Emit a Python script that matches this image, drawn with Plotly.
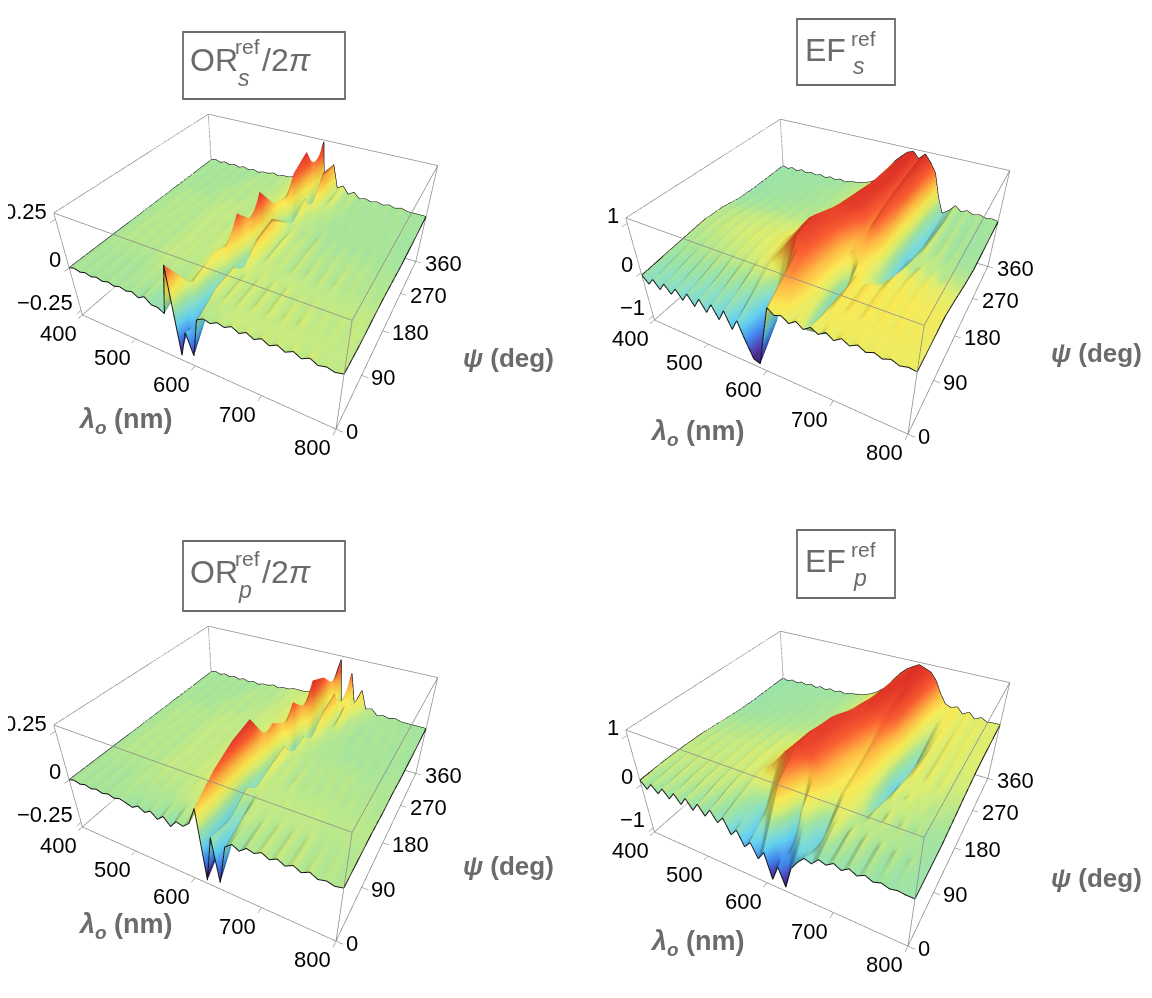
import plotly.graph_objects as go

# sample grid
lam = [400, 410, 420, 430, 440, 450, 460, 470, 480, 490, 500, 510, 520, 530, 540,
       550, 560, 570, 580, 590, 600, 610, 620, 630, 640, 650, 660, 670, 680, 690,
       700, 710, 720, 730, 740, 750, 760, 770, 780, 790, 800]
psi = [0, 45, 90, 135, 180, 225, 270, 315, 360]

# OR_s^ref / 2pi, one row per psi value
or_s = [
    [0.00, 0.01, 0.00, 0.01, 0.00, 0.01, 0.00, 0.01, 0.00, 0.01, 0.00, 0.01, -0.01, 0.01, -0.02,
     -0.02, -0.04, 0.22, -0.25, -0.1, -0.22, 0.0, 0.02, 0.01, 0.03,
     0.02, 0.04, 0.02, 0.04, 0.02, 0.04, 0.02, 0.04, 0.02, 0.04,
     0.02, 0.04, 0.02, 0.03, 0.02, 0.03],
    [0.00, 0.01, 0.00, 0.01, 0.00, 0.01, 0.00, 0.01, 0.00, 0.01, 0.01, 0.02, 0.01, 0.02, 0.01,
     0.01, 0.02, 0.03, 0.06, -0.15, -0.05, 0.05, 0.02, 0.04, 0.02,
     0.04, 0.02, 0.04, 0.02, 0.04, 0.02, 0.04, 0.02, 0.04, 0.02,
     0.03, 0.02, 0.03, 0.02, 0.03, 0.02],
    [0.00, 0.01, 0.01, 0.02, 0.01, 0.02, 0.01, 0.02, 0.01, 0.02, 0.02, 0.03, 0.02, 0.03, 0.02,
     0.02, 0.03, 0.04, 0.1, 0.02, -0.1, 0.06, 0.02, 0.04, 0.02,
     0.04, 0.02, 0.04, 0.02, 0.04, 0.02, 0.03, 0.02, 0.03, 0.02,
     0.03, 0.02, 0.03, 0.02, 0.03, 0.02],
    [0.00, 0.01, 0.01, 0.02, 0.01, 0.02, 0.01, 0.02, 0.01, 0.02, 0.02, 0.03, 0.02, 0.03, 0.02,
     0.03, 0.03, 0.04, 0.06, 0.22, 0.0, -0.1, 0.12, 0.02, 0.04,
     0.02, 0.03, 0.01, 0.03, 0.01, 0.03, 0.01, 0.03, 0.01, 0.03,
     0.01, 0.02, 0.01, 0.02, 0.01, 0.02],
    [0.00, 0.01, 0.01, 0.02, 0.01, 0.02, 0.01, 0.02, 0.01, 0.02, 0.02, 0.03, 0.02, 0.03, 0.02,
     0.03, 0.03, 0.04, 0.06, 0.1, 0.26, -0.12, 0.14, 0.02, 0.05,
     0.02, 0.03, 0.01, 0.03, 0.01, 0.02, 0.01, 0.02, 0.01, 0.02,
     0.01, 0.02, 0.01, 0.01, 0.01, 0.01],
    [0.00, 0.01, 0.01, 0.02, 0.01, 0.02, 0.01, 0.02, 0.01, 0.02, 0.02, 0.03, 0.02, 0.03, 0.02,
     0.02, 0.03, 0.03, 0.05, 0.08, 0.12, -0.08, 0.04, 0.02, 0.03,
     0.01, 0.02, 0.00, 0.02, 0.00, 0.01, 0.00, 0.01, 0.00, 0.01,
     0.00, 0.01, 0.00, 0.01, 0.00, 0.00],
    [0.00, 0.01, 0.00, 0.01, 0.00, 0.01, 0.00, 0.01, 0.01, 0.02, 0.01, 0.02, 0.01, 0.02, 0.02,
     0.02, 0.03, 0.03, 0.04, 0.05, 0.08, 0.22, -0.1, 0.1, 0.02,
     0.03, 0.01, 0.02, 0.00, 0.01, 0.00, 0.01, 0.00, 0.01, 0.00,
     0.01, 0.00, 0.01, 0.00, 0.00, 0.00],
    [0.00, 0.01, 0.00, 0.01, 0.00, 0.01, 0.00, 0.01, 0.00, 0.01, 0.01, 0.02, 0.01, 0.02, 0.01,
     0.02, 0.02, 0.03, 0.04, 0.05, 0.07, 0.27, 0.1, -0.12, 0.18,
     0.02, 0.05, 0.01, 0.02, 0.00, 0.01, 0.00, 0.01, 0.00, 0.01,
     0.00, 0.01, 0.00, 0.01, 0.00, 0.00],
    [0.00, 0.01, 0.00, 0.01, 0.00, 0.01, 0.00, 0.01, 0.00, 0.01, 0.00, 0.01, 0.01, 0.02, 0.01,
     0.02, 0.02, 0.03, 0.03, 0.04, 0.06, 0.1, 0.27, -0.1, 0.16,
     0.03, 0.05, 0.01, 0.03, 0.00, 0.01, 0.00, 0.01, 0.00, 0.01,
     0.00, 0.01, 0.00, 0.00, 0.00, 0.00],
]

# EF_s^ref
ef_s = [
    [-0.05, -0.2, -0.05, -0.22, -0.05, -0.22, -0.06, -0.25, -0.06, -0.28, -0.07, -0.3, -0.08, -0.35, -0.1,
     -0.45, -0.2, -0.6, -0.95, -1.0, -0.3, 0.35, 0.25, 0.3, 0.2,
     0.3, 0.2, 0.3, 0.22, 0.32, 0.22, 0.32, 0.24, 0.32, 0.24,
     0.3, 0.24, 0.3, 0.24, 0.28, 0.26],
    [0.0, -0.08, 0.0, -0.08, 0.02, -0.08, 0.02, -0.08, 0.03, -0.1, 0.03, -0.1, 0.05, -0.12, 0.05,
     -0.1, 0.0, -0.35, -0.7, -0.5, 0.3, 0.65, 0.7, 0.55, 0.35,
     0.2, -0.4, 0.25, 0.35, 0.3, 0.38, 0.28, 0.36, 0.28, 0.34,
     0.28, 0.34, 0.28, 0.32, 0.28, 0.28],
    [0.05, 0.02, 0.07, 0.03, 0.08, 0.05, 0.1, 0.06, 0.12, 0.08, 0.14, 0.1, 0.16, 0.14, 0.2,
     0.22, 0.3, 0.45, 0.62, 0.8, 0.92, 0.88, 0.8, 0.65, 0.45,
     0.15, -0.85, 0.2, 0.4, 0.32, 0.4, 0.3, 0.38, 0.3, 0.36,
     0.3, 0.35, 0.3, 0.32, 0.3, 0.3],
    [0.1, 0.06, 0.12, 0.08, 0.14, 0.1, 0.16, 0.12, 0.18, 0.14, 0.2, 0.16, 0.22, 0.2, 0.26,
     0.3, 0.4, 0.55, 0.72, 0.88, 0.98, 0.95, 0.88, 0.78, 0.6,
     0.42, 0.5, 0.45, 0.3, 0.1, 0.0, 0.15, 0.3, 0.22, 0.3,
     0.22, 0.28, 0.22, 0.25, 0.2, 0.2],
    [0.08, 0.05, 0.1, 0.06, 0.12, 0.08, 0.12, 0.1, 0.14, 0.1, 0.15, 0.12, 0.16, 0.14, 0.18,
     0.2, 0.26, 0.35, 0.5, 0.66, 0.8, 0.9, 0.96, 1.0, 0.95,
     0.85, 0.68, 0.8, 0.55, 0.12, -0.25, -0.1, 0.12, 0.05, 0.15,
     0.08, 0.12, 0.05, 0.1, 0.08, 0.08],
    [0.0, -0.03, 0.02, -0.02, 0.03, 0.0, 0.04, 0.0, 0.05, 0.02, 0.06, 0.03, 0.07, 0.05, 0.08,
     0.1, 0.14, 0.2, 0.3, 0.45, 0.62, 0.8, 0.92, 1.0, 1.02,
     0.95, 0.8, 0.9, 0.7, 0.2, -0.3, -0.2, 0.02, 0.15, 0.02,
     0.1, 0.0, 0.06, 0.0, 0.02, 0.0],
    [-0.02, -0.05, 0.0, -0.04, 0.0, -0.03, 0.01, -0.02, 0.02, -0.01, 0.03, 0.0, 0.04, 0.02, 0.05,
     0.06, 0.1, 0.15, 0.22, 0.35, 0.5, 0.68, 0.82, 0.95, 1.0,
     1.02, 0.85, 0.95, 0.8, 0.4, -0.15, -0.3, -0.05, 0.12, 0.0,
     0.08, -0.02, 0.04, -0.02, 0.0, 0.0],
    [-0.02, -0.05, 0.0, -0.04, 0.0, -0.03, 0.0, -0.02, 0.01, -0.02, 0.02, 0.0, 0.03, 0.01, 0.04,
     0.05, 0.08, 0.12, 0.18, 0.28, 0.42, 0.6, 0.78, 0.9, 1.0,
     1.05, 0.9, 1.0, 0.85, 0.55, 0.0, -0.25, -0.1, 0.1, 0.0,
     0.06, -0.02, 0.04, -0.02, 0.0, 0.0],
    [-0.02, -0.06, -0.01, -0.06, 0.0, -0.05, 0.0, -0.04, 0.0, -0.04, 0.01, -0.03, 0.02, -0.02, 0.03,
     0.04, 0.06, 0.1, 0.15, 0.24, 0.38, 0.55, 0.75, 0.88, 1.0,
     1.05, 0.92, 1.05, 0.9, 0.7, 0.2, -0.15, -0.05, 0.1, 0.0,
     0.06, 0.0, 0.04, 0.0, 0.02, 0.0],
]

# OR_p^ref / 2pi
or_p = [
    [0.00, 0.01, 0.00, 0.01, 0.00, 0.01, 0.00, 0.01, 0.00, 0.01, 0.00, -0.01, 0.01, -0.01, 0.01,
     -0.02, 0.01, -0.03, 0.01, 0.0, 0.03, 0.12, -0.26, 0.0, -0.24,
     -0.02, 0.01, -0.01, 0.02, 0.01, 0.03, 0.01, 0.03, 0.01, 0.03,
     0.01, 0.03, 0.01, 0.02, 0.01, 0.02],
    [0.00, 0.01, 0.00, 0.01, 0.00, 0.01, 0.00, 0.01, 0.01, 0.02, 0.01, 0.02, 0.01, 0.02, 0.01,
     0.02, 0.02, 0.03, 0.03, 0.04, 0.08, 0.2, -0.15, -0.02, -0.06,
     0.02, 0.03, 0.01, 0.03, 0.01, 0.03, 0.01, 0.03, 0.01, 0.03,
     0.01, 0.02, 0.01, 0.02, 0.01, 0.02],
    [0.00, 0.01, 0.01, 0.02, 0.01, 0.02, 0.01, 0.02, 0.01, 0.02, 0.02, 0.03, 0.02, 0.03, 0.02,
     0.03, 0.03, 0.04, 0.04, 0.05, 0.1, 0.25, -0.12, 0.04, 0.02,
     0.03, 0.02, 0.03, 0.02, 0.03, 0.02, 0.03, 0.02, 0.03, 0.02,
     0.02, 0.02, 0.02, 0.02, 0.02, 0.02],
    [0.00, 0.01, 0.01, 0.02, 0.01, 0.02, 0.01, 0.02, 0.01, 0.02, 0.02, 0.03, 0.02, 0.03, 0.02,
     0.03, 0.03, 0.04, 0.05, 0.06, 0.08, 0.27, 0.05, -0.1, 0.06,
     0.02, 0.03, 0.01, 0.03, 0.01, 0.02, 0.01, 0.02, 0.01, 0.02,
     0.01, 0.02, 0.01, 0.02, 0.01, 0.01],
    [0.00, 0.01, 0.01, 0.02, 0.01, 0.02, 0.01, 0.02, 0.01, 0.02, 0.02, 0.03, 0.02, 0.03, 0.02,
     0.03, 0.03, 0.04, 0.04, 0.05, 0.06, 0.1, 0.18, -0.09, 0.08,
     0.02, 0.03, 0.01, 0.02, 0.01, 0.02, 0.01, 0.02, 0.01, 0.02,
     0.01, 0.01, 0.01, 0.01, 0.01, 0.01],
    [0.00, 0.01, 0.01, 0.02, 0.01, 0.02, 0.01, 0.02, 0.01, 0.02, 0.02, 0.03, 0.02, 0.03, 0.02,
     0.02, 0.03, 0.03, 0.04, 0.04, 0.05, 0.06, 0.1, 0.22, -0.1,
     0.06, 0.02, 0.02, 0.01, 0.01, 0.01, 0.01, 0.00, 0.01, 0.00,
     0.01, 0.00, 0.01, 0.00, 0.01, 0.00],
    [0.00, 0.01, 0.00, 0.01, 0.00, 0.01, 0.00, 0.01, 0.01, 0.02, 0.01, 0.02, 0.01, 0.02, 0.02,
     0.02, 0.03, 0.03, 0.03, 0.04, 0.05, 0.06, 0.08, 0.12, 0.27,
     -0.1, 0.12, 0.02, 0.02, 0.01, 0.01, 0.00, 0.01, 0.00, 0.01,
     0.00, 0.01, 0.00, 0.01, 0.00, 0.00],
    [0.00, 0.01, 0.00, 0.01, 0.00, 0.01, 0.00, 0.01, 0.00, 0.01, 0.01, 0.02, 0.01, 0.02, 0.01,
     0.02, 0.02, 0.03, 0.03, 0.04, 0.04, 0.05, 0.07, 0.1, 0.22,
     -0.08, 0.15, 0.02, 0.1, 0.01, 0.02, 0.00, 0.01, 0.00, 0.01,
     0.00, 0.01, 0.00, 0.01, 0.00, 0.00],
    [0.00, 0.01, 0.00, 0.01, 0.00, 0.01, 0.00, 0.01, 0.00, 0.01, 0.00, 0.01, 0.01, 0.02, 0.01,
     0.02, 0.02, 0.03, 0.03, 0.03, 0.04, 0.05, 0.06, 0.08, 0.12,
     0.26, -0.06, 0.2, 0.03, 0.12, 0.02, 0.03, 0.00, 0.01, 0.00,
     0.01, 0.00, 0.00, 0.00, 0.00, 0.00],
]

# EF_p^ref
ef_p = [
    [0.1, -0.05, 0.1, -0.05, 0.1, -0.06, 0.1, -0.08, 0.1, -0.1, 0.08, -0.12, 0.06, -0.15, 0.0,
     -0.3, -0.15, -0.45, -0.3, -0.6, -0.4, -0.95, -0.6, -1.0, -0.5,
     -0.3, -0.15, -0.2, -0.05, -0.1, 0.0, -0.08, 0.02, -0.06, 0.02,
     -0.05, 0.0, -0.05, -0.02, -0.04, -0.04],
    [0.12, 0.05, 0.12, 0.05, 0.13, 0.05, 0.13, 0.06, 0.14, 0.06, 0.14, 0.05, 0.14, 0.02, 0.1,
     0.0, -0.1, -0.3, 0.1, 0.4, 0.6, 0.3, -0.5, 0.2, 0.1,
     -0.2, -0.3, 0.1, 0.2, 0.0, 0.15, 0.0, 0.12, -0.02, 0.1,
     -0.02, 0.08, -0.03, 0.05, -0.03, -0.03],
    [0.12, 0.08, 0.13, 0.08, 0.14, 0.08, 0.14, 0.09, 0.15, 0.1, 0.16, 0.12, 0.18, 0.15, 0.22,
     0.3, 0.42, 0.58, 0.75, 0.88, 0.95, 0.9, 0.82, 0.65, 0.5,
     0.35, 0.25, 0.35, 0.28, 0.15, 0.0, 0.15, 0.05, 0.18, 0.02,
     0.12, 0.0, 0.08, -0.02, 0.0, -0.02],
    [0.1, 0.06, 0.12, 0.07, 0.12, 0.08, 0.13, 0.09, 0.14, 0.1, 0.16, 0.12, 0.18, 0.16, 0.22,
     0.28, 0.38, 0.52, 0.68, 0.84, 0.95, 0.98, 0.92, 0.8, 0.65,
     0.5, 0.38, 0.48, 0.35, 0.1, -0.2, 0.05, 0.2, 0.1, 0.2,
     0.1, 0.15, 0.05, 0.1, 0.05, 0.05],
    [0.05, 0.02, 0.06, 0.03, 0.07, 0.04, 0.08, 0.05, 0.1, 0.06, 0.12, 0.08, 0.14, 0.12, 0.16,
     0.2, 0.28, 0.4, 0.55, 0.72, 0.86, 0.95, 0.98, 0.92, 0.85,
     0.7, 0.55, 0.65, 0.45, 0.15, -0.3, -0.15, 0.15, 0.28, 0.15,
     0.25, 0.12, 0.2, 0.12, 0.15, 0.12],
    [0.0, -0.03, 0.01, -0.02, 0.02, -0.01, 0.03, 0.0, 0.04, 0.01, 0.05, 0.03, 0.06, 0.05, 0.08,
     0.1, 0.15, 0.22, 0.32, 0.45, 0.6, 0.75, 0.88, 0.96, 1.0,
     0.95, 0.85, 0.9, 0.75, 0.45, 0.0, -0.2, 0.1, 0.25, 0.15,
     0.25, 0.15, 0.22, 0.15, 0.18, 0.18],
    [-0.02, -0.05, 0.0, -0.04, 0.0, -0.03, 0.01, -0.02, 0.02, -0.01, 0.03, 0.0, 0.04, 0.02, 0.05,
     0.06, 0.1, 0.15, 0.22, 0.32, 0.45, 0.6, 0.75, 0.88, 0.97,
     1.02, 0.95, 1.0, 0.85, 0.6, 0.2, 0.0, 0.2, 0.3, 0.18,
     0.28, 0.18, 0.25, 0.18, 0.2, 0.2],
    [-0.02, -0.05, 0.0, -0.04, 0.0, -0.03, 0.0, -0.02, 0.01, -0.02, 0.02, 0.0, 0.03, 0.01, 0.04,
     0.05, 0.08, 0.12, 0.18, 0.26, 0.38, 0.52, 0.68, 0.82, 0.93,
     1.0, 1.05, 0.98, 0.9, 0.7, 0.4, 0.2, 0.3, 0.32, 0.2,
     0.28, 0.18, 0.25, 0.18, 0.2, 0.2],
    [-0.03, -0.07, -0.02, -0.06, -0.01, -0.05, 0.0, -0.05, 0.0, -0.04, 0.01, -0.03, 0.02, -0.02, 0.03,
     0.04, 0.07, 0.1, 0.15, 0.22, 0.32, 0.45, 0.62, 0.78, 0.9,
     0.98, 1.05, 1.0, 0.95, 0.8, 0.55, 0.35, 0.3, 0.35, 0.22,
     0.3, 0.18, 0.25, 0.18, 0.2, 0.2],
]

lam_ticks = [400, 500, 600, 700, 800]
psi_ticks = [0, 90, 180, 270, 360]

rainbow = [[0.0, '#1c1240'], [0.1, '#4a2a9a'], [0.22, '#3b7fe6'], [0.34, '#5cc9ea'],
           [0.44, '#86d8bc'], [0.5, '#9cdc96'], [0.58, '#d4e66a'], [0.66, '#f2e24e'],
           [0.75, '#f6b23c'], [0.86, '#f2582a'], [1.0, '#d01e1c']]

GREY = '#6b6b6b'
FONT = 'Liberation Sans'
W, H = 1152, 998


def px(x, y):
    return x / W, 1 - y / H


# data grid, z limit, z ticks, title parts, scene domain, title text spots, label spots
panels = [
    dict(z=or_s, zmax=0.28, zt=[-0.25, 0, 0.25], zl=['−0.25', '0', '0.25'],
         main='OR', sub='s', tail='/2<i>π</i>',
         dom=([0.0, 0.4362], [0.552, 0.982]), box=(175, 24, 337, 91),
         tpos=dict(main=(180, 52), ref=(225, 38), sub=(228, 70), tail=(252, 52)),
         lam_lab=(68, 413), psi_lab=(548, 350)),
    dict(z=ef_s, zmax=1.1, zt=[-1, 0, 1], zl=['−1', '0', '1'],
         main='EF', sub='s', tail='',
         dom=([0.4965, 0.9327], [0.547, 0.977]), box=(789, 11, 887, 77),
         tpos=dict(main=(795, 42), ref=(841, 30), sub=(843, 58)),
         lam_lab=(640, 425), psi_lab=(1136, 345)),
    dict(z=or_p, zmax=0.28, zt=[-0.25, 0, 0.25], zl=['−0.25', '0', '0.25'],
         main='OR', sub='p', tail='/2<i>π</i>',
         dom=([0.0, 0.4362], [0.039, 0.469]), box=(175, 533, 337, 603),
         tpos=dict(main=(180, 564), ref=(225, 550), sub=(228, 582), tail=(252, 564)),
         lam_lab=(68, 918), psi_lab=(548, 858)),
    dict(z=ef_p, zmax=1.1, zt=[-1, 0, 1], zl=['−1', '0', '1'],
         main='EF', sub='p', tail='',
         dom=([0.4965, 0.9327], [0.034, 0.464]), box=(789, 522, 887, 590),
         tpos=dict(main=(795, 553), ref=(841, 541), sub=(843, 570)),
         lam_lab=(640, 935), psi_lab=(1136, 870)),
]

fig = go.Figure()
shapes = []
notes = []

for k, p in enumerate(panels):
    sc = 'scene' if k == 0 else 'scene%d' % (k + 1)
    z = p['z']
    zm = p['zmax']

    fig.add_trace(go.Surface(
        x=lam, y=psi, z=z, scene=sc, colorscale=rainbow, cmin=-zm, cmax=zm,
        showscale=False, hoverinfo='skip',
        lighting=dict(ambient=0.72, diffuse=0.5, specular=0.06, roughness=0.8, fresnel=0.0),
        lightposition=dict(x=-20000, y=-40000, z=60000)))

    # black rim of the surface
    ex, ey, ez = [], [], []
    for j in (0, len(psi) - 1):
        ex += lam + [None]
        ey += [psi[j]] * len(lam) + [None]
        ez += z[j] + [None]
    for i in (0, len(lam) - 1):
        ex += [lam[i]] * len(psi) + [None]
        ey += psi + [None]
        ez += [row[i] for row in z] + [None]
    fig.add_trace(go.Scatter3d(x=ex, y=ey, z=ez, mode='lines', scene=sc,
                               line=dict(color='#111', width=2), hoverinfo='skip',
                               showlegend=False))

    # bounding box
    x0, x1, y0, y1 = lam[0], lam[-1], psi[0], psi[-1]
    bx, by, bz = [], [], []
    for zz in (-zm, zm):
        bx += [x0, x1, x1, x0, x0, None]
        by += [y0, y0, y1, y1, y0, None]
        bz += [zz] * 5 + [None]
    for xx, yy in ((x0, y0), (x1, y0), (x1, y1), (x0, y1)):
        bx += [xx, xx, None]
        by += [yy, yy, None]
        bz += [-zm, zm, None]
    fig.add_trace(go.Scatter3d(x=bx, y=by, z=bz, mode='lines', scene=sc,
                               line=dict(color='#8c8c8c', width=1.5), hoverinfo='skip',
                               showlegend=False))

    # tick labels drawn flat, like the original
    tf = dict(family=FONT, size=22, color='black')
    sa = []
    for t in lam_ticks:
        sa.append(dict(x=t, y=y0, z=-zm, text=str(t), showarrow=False, xanchor='right',
                       yanchor='top', xshift=-3, yshift=-4, font=tf))
    for t in psi_ticks:
        sa.append(dict(x=x1, y=t, z=-zm, text=str(t), showarrow=False, xanchor='left',
                       yanchor='middle', xshift=8, yshift=-2, font=tf))
    for t, s in zip(p['zt'], p['zl']):
        sa.append(dict(x=x0, y=y0, z=t, text=s, showarrow=False, xanchor='right',
                       yanchor='middle', xshift=-6, yshift=8, font=tf))

    ax = dict(showgrid=False, showbackground=False, zeroline=False, showline=False,
              showspikes=False, ticks='outside', ticklen=5, tickcolor='#777',
              showticklabels=False, title=dict(text=''))
    fig.update_layout({sc: dict(
        domain=dict(x=p['dom'][0], y=p['dom'][1]),
        xaxis=dict(ax, range=[x0, x1], tickvals=lam_ticks),
        yaxis=dict(ax, range=[y0, y1], tickvals=psi_ticks),
        zaxis=dict(ax, range=[-zm, zm], tickvals=p['zt']),
        aspectmode='manual', aspectratio=dict(x=1, y=0.9, z=0.45),
        camera=dict(eye=dict(x=0.73, y=-1.35, z=1.13), center=dict(x=0, y=0, z=0),
                    projection=dict(type='perspective')),
        annotations=sa,
        bgcolor='white')})

    # title box
    bx0, by0, bx1, by1 = p['box']
    a0, b0 = px(bx0, by0)
    a1, b1 = px(bx1, by1)
    shapes.append(dict(type='rect', xref='paper', yref='paper', x0=a0, x1=a1, y0=b1, y1=b0,
                       line=dict(color=GREY, width=1.8)))
    tp = p['tpos']
    notes.append(tp['main'] + (p['main'], 32, 'left'))
    notes.append(tp['ref'] + ('ref', 21, 'left'))
    notes.append(tp['sub'] + ('<i>%s</i>' % p['sub'], 23, 'left'))
    if p['tail']:
        notes.append(tp['tail'] + (p['tail'], 32, 'left'))

    notes.append(p['lam_lab'] + ('<b><i>λ<sub>o</sub></i> (nm)</b>', 27, 'left'))
    notes.append(p['psi_lab'] + ('<b><i>ψ</i> (deg)</b>', 26, 'right'))

annotations = []
for x, y, t, s, anc in notes:
    u, v = px(x, y)
    annotations.append(dict(x=u, y=v, xref='paper', yref='paper', text=t, showarrow=False,
                            xanchor=anc, yanchor='middle',
                            font=dict(family=FONT, size=s, color=GREY)))

fig.update_layout(width=W, height=H, margin=dict(l=0, r=0, t=0, b=0),
                  paper_bgcolor='white', showlegend=False,
                  shapes=shapes, annotations=annotations)

fig.write_html("out.html")
